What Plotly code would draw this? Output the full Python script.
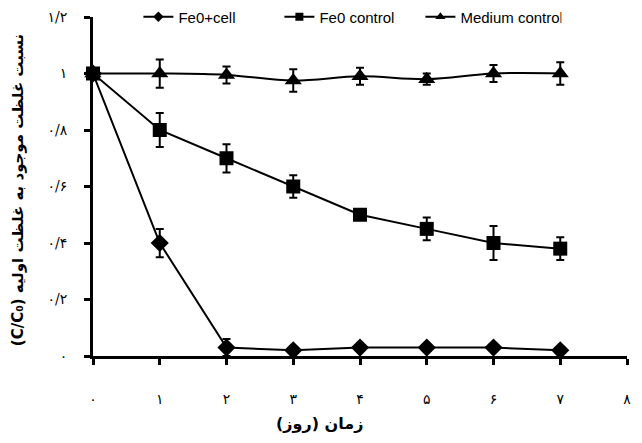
import plotly.graph_objects as go

days = [0, 1, 2, 3, 4, 5, 6, 7]

fe_cell = [1.0, 0.40, 0.03, 0.02, 0.03, 0.03, 0.03, 0.02]
fe_cell_err = [0.0, 0.05, 0.03, 0.0, 0.0, 0.0, 0.0, 0.0]

fe_ctrl = [1.0, 0.80, 0.70, 0.60, 0.50, 0.45, 0.40, 0.38]
fe_ctrl_err = [0.0, 0.06, 0.05, 0.04, 0.01, 0.04, 0.06, 0.04]

med_ctrl = [1.0, 1.0, 0.995, 0.975, 0.99, 0.98, 1.0, 1.0]
med_ctrl_err = [0.0, 0.05, 0.03, 0.04, 0.03, 0.02, 0.03, 0.04]

x_ticks = [0, 1, 2, 3, 4, 5, 6, 7, 8]
x_labels = ["۰", "۱", "۲", "۳", "۴", "۵", "۶", "۷", "۸"]
y_ticks = [0, 0.2, 0.4, 0.6, 0.8, 1.0, 1.2]
y_labels = ["۰", "۰/۲", "۰/۴", "۰/۶", "۰/۸", "۱", "۱/۲"]

x_title = "زمان (روز)"
y_title = "(C/C₀) نسبت غلظت موجود به غلظت اولیه"

fig = go.Figure()

def add(name, y, err, symbol, size, legsize, shape="linear"):
    fig.add_trace(go.Scatter(
        x=days, y=y, name=name, mode="lines+markers", showlegend=False,
        legendgroup=name,
        line=dict(color="black", width=2, shape=shape),
        marker=dict(symbol=symbol, size=size, color="black"),
        error_y=dict(type="data", array=err, visible=True, color="black",
                     thickness=2, width=4),
        cliponaxis=False,
    ))
    # legend proxy with smaller marker, as in the reference legend
    fig.add_trace(go.Scatter(
        x=[None], y=[None], name=name, mode="lines+markers", legendgroup=name,
        line=dict(color="black", width=2),
        marker=dict(symbol=symbol, size=legsize, color="black"),
    ))

add("Fe0+cell", fe_cell, fe_cell_err, "diamond", 14, 8)
add("Fe0 control", fe_ctrl, fe_ctrl_err, "square", 14, 8)
add("Medium control", med_ctrl, med_ctrl_err, "triangle-up", 15, 9, "spline")

fig.update_layout(
    width=642, height=443,
    margin=dict(l=85, r=23, t=9, b=95, autoexpand=False),
    paper_bgcolor="white", plot_bgcolor="white",
    showlegend=True,
    legend=dict(orientation="h", x=0.085, y=1.0, xanchor="left", yanchor="middle",
                font=dict(family="Liberation Sans, Arial", size=15, color="black"),
                bgcolor="rgba(0,0,0,0)", tracegroupgap=0,
                entrywidth=96, entrywidthmode="pixels"),
    xaxis=dict(range=[0, 8], tickvals=x_ticks, ticktext=x_labels,
               showline=True, linecolor="black", linewidth=3,
               ticks="outside", ticklen=6, tickwidth=3, tickcolor="black",
               showgrid=False, zeroline=False, ticklabelstandoff=22, automargin=False,
               tickfont=dict(family="DejaVu Serif, DejaVu Sans", size=14, color="black")),
    yaxis=dict(range=[0, 1.2], tickvals=y_ticks, ticktext=y_labels,
               showline=True, linecolor="black", linewidth=3,
               ticks="outside", ticklen=6, tickwidth=3, tickcolor="black",
               showgrid=False, zeroline=False, ticklabelstandoff=14, automargin=False,
               tickfont=dict(family="DejaVu Serif, DejaVu Sans", size=14, color="black")),
    annotations=[
        dict(text=x_title, xref="paper", yref="paper", x=0.425, y=-0.2,
             xanchor="center", yanchor="middle", showarrow=False,
             font=dict(family="DejaVu Sans", size=16, color="black", weight="bold")),
        dict(text=y_title, xref="paper", yref="paper", x=-0.14, y=0.49,
             xanchor="center", yanchor="middle", showarrow=False, textangle=-90,
             font=dict(family="DejaVu Sans", size=15, color="black", weight="bold")),
    ],
)

fig.write_html("out.html")
